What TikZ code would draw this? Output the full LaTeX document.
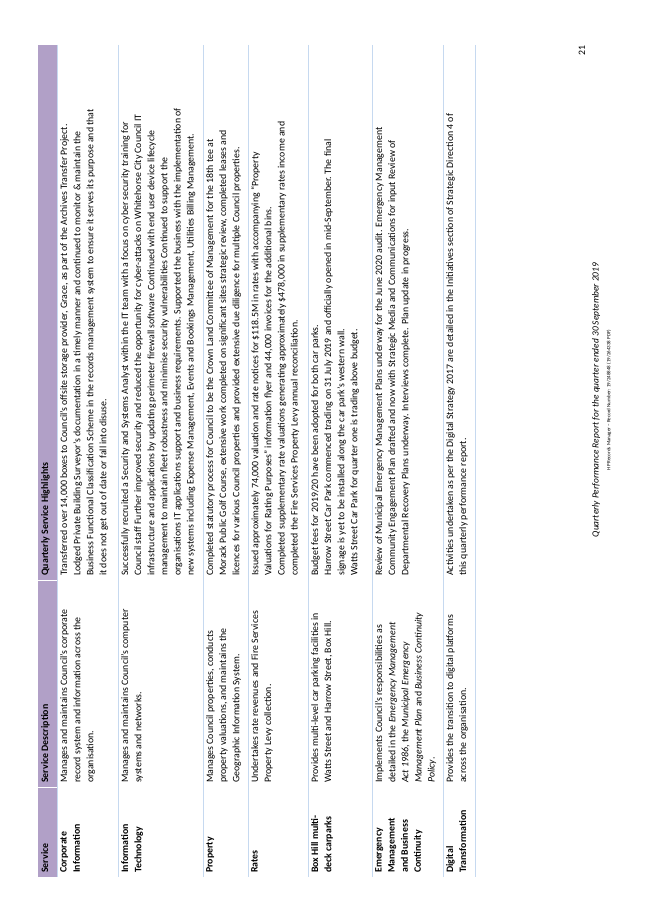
\documentclass[tikz,border=0pt]{standalone}
\usepackage{fontspec}
\setmainfont{Carlito}
\definecolor{headpurple}{HTML}{B1A0C7}
\definecolor{rowline}{HTML}{C6D9F0}
\tikzset{
    cell/.style = {rotate=90, anchor=north west, inner sep=0pt, align=left, font=\fontsize{9}{12}\selectfont},
    headcell/.style = {cell, font=\fontsize{9}{12}\selectfont\bfseries},
    namecell/.style = {cell, font=\fontsize{9}{12}\selectfont\bfseries}
}
\begin{document}
\begin{tikzpicture}[x=0.3216mm, y=-0.3216mm]
    \useasboundingbox (0, 0) rectangle (653, 923);

    % header band
    \fill[headpurple] (38, 45) rectangle (57, 877);
    \draw[white, thin] (38, 787) -- (57, 787);
    \draw[white, thin] (38, 580) -- (57, 580);
    \node[headcell] (hservice) at (41, 873) {Service};
    \node[headcell] (hdesc) at (41, 783) {Service Description};
    \node[headcell] (hhigh) at (41, 576) {Quarterly Service Highlights};

    % row lines
    \foreach \rx in {57, 118, 203, 248, 308, 372, 443, 475}
        \draw[rowline, thin] (\rx, 45) -- (\rx, 877);

    % corporate information
    \node[namecell] (scorp) at (60, 873) {Corporate\\Information};
    \node[cell] (dcorp) at (60, 783) {Manages and maintains Council's corporate\\record system and information across the\\organisation.};
    \node[cell] (qcorp) at (60, 576) {Transferred over 14,000 boxes to Council's offsite storage provider, Grace, as part of the Archives Transfer Project.\\Lodged Private Building Surveyor's documentation in a timely manner and continued to monitor \& maintain the\\Business Functional Classification Scheme in the records management system to ensure it serves its purpose and that\\it does not get out of date or fall into disuse.};

    % information technology
    \node[namecell] (sit) at (121, 873) {Information\\Technology};
    \node[cell] (dit) at (121, 783) {Manages and maintains Council's computer\\systems and networks.};
    \node[cell] (qit) at (121, 576) {Successfully recruited a Security and Systems Analyst within the IT team with a focus on cyber security training for\\Council staff Further improved security and reduced the opportunity for cyber-attacks on Whitehorse City Council IT\\infrastructure and applications by updating perimeter firewall software Continued with end user device lifecycle\\management to maintain fleet robustness and minimise security vulnerabilities Continued to support the\\organisations IT applications support and business requirements. Supported the business with the implementation of\\new systems including Expense Management, Events and Bookings Management, Utilities Billing Management.};

    % property
    \node[namecell] (sprop) at (206, 873) {Property};
    \node[cell] (dprop) at (206, 783) {Manages Council properties, conducts\\property valuations, and maintains the\\Geographic Information System.};
    \node[cell] (qprop) at (206, 576) {Completed statutory process for Council to be the Crown Land Committee of Management for the 18th tee at\\Morack Public Golf Course, extensive work completed on significant sites strategic review, completed leases and\\licences for various Council properties and provided extensive due diligence for multiple Council properties.};

    % rates
    \node[namecell] (srates) at (251, 873) {Rates};
    \node[cell] (drates) at (251, 783) {Undertakes rate revenues and Fire Services\\Property Levy collection.};
    \node[cell] (qrates) at (251, 576) {Issued approximately 74,000 valuation and rate notices for \$118.5M in rates with accompanying ``Property\\Valuations for Rating Purposes'' information flyer and 44,000 invoices for the additional bins.\\Completed supplementary rate valuations generating approximately \$478,000 in supplementary rates income and\\completed the Fire Services Property Levy annual reconciliation.};

    % box hill carparks
    \node[namecell] (scar) at (311, 873) {Box Hill multi-\\deck carparks};
    \node[cell] (dcar) at (311, 783) {Provides multi-level car parking facilities in\\Watts Street and Harrow Street, Box Hill.};
    \node[cell] (qcar) at (311, 576) {Budget fees for 2019/20 have been adopted for both car parks.\\Harrow Street Car Park commenced trading on 31 July 2019 and officially opened in mid-September. The final\\signage is yet to be installed along the car park's western wall.\\Watts Street Car Park for quarter one is trading above budget.};

    % emergency management
    \node[namecell] (semer) at (375, 873) {Emergency\\Management\\and Business\\Continuity};
    \node[cell] (demer) at (375, 783) {Implements Council's responsibilities as\\detailed in the \textit{Emergency Management}\\\textit{Act 1986}, the \textit{Municipal Emergency}\\\textit{Management Plan} and \textit{Business Continuity}\\\textit{Policy}.};
    \node[cell] (qemer) at (375, 576) {Review of Municipal Emergency Management Plans underway for the June 2020 audit. Emergency Management\\Community Engagement Plan drafted and now with Strategic Media and Communications for input Review of\\Departmental Recovery Plans underway. Interviews complete. Plan update in progress.};

    % digital transformation
    \node[namecell] (sdig) at (446, 873) {Digital\\Transformation};
    \node[cell] (ddig) at (446, 783) {Provides the transition to digital platforms\\across the organisation.};
    \node[cell] (qdig) at (446, 576) {Activities undertaken as per the Digital Strategy 2017 are detailed in the Initiatives section of Strategic Direction 4 of\\this quarterly performance report.};

    % footer
    \node[rotate=90, inner sep=0pt, font=\fontsize{8.6}{10}\selectfont\itshape] (ftitle) at (596, 400) {Quarterly Performance Report for the quarter ended 30 September 2019};
    \node[rotate=90, inner sep=0pt, font=\fontsize{4.6}{6}\selectfont] (frecord) at (609, 400) {HP Records Manager -- Record Number: 19/248848 (19/264338 PDF)};
    \node[rotate=90, inner sep=0pt, font=\fontsize{9}{10}\selectfont] (pnum) at (582, 51) {21};
\end{tikzpicture}
\end{document}
